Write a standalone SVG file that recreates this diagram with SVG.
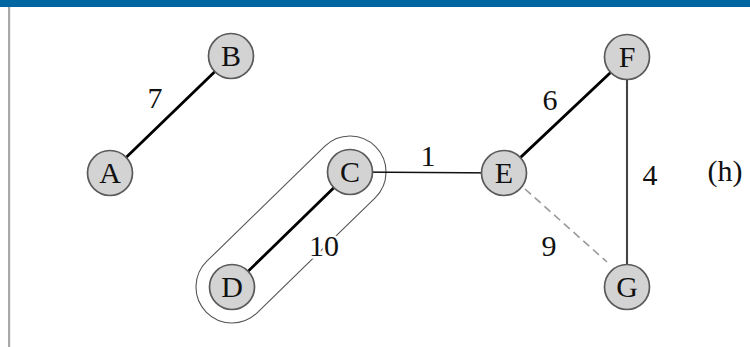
<svg xmlns="http://www.w3.org/2000/svg" width="750" height="347" viewBox="0 0 750 347">
  <style>
    .node circle { fill: #d3d3d3; stroke: #5a5a5a; stroke-width: 1.7; }
    .node text, .lbl { font-family: "Liberation Serif", "Times New Roman", serif; font-size: 30px; fill: #111; text-anchor: middle; }
    .tree { stroke: #000; stroke-width: 2.8; stroke-linecap: round; }
    .thin { stroke: #111; stroke-width: 1.7; }
    .mid { stroke: #444; stroke-width: 2.1; }
    .dash { stroke: #999; stroke-width: 1.6; stroke-dasharray: 8 5; }
    .halo { stroke: #fff; stroke-width: 5; paint-order: stroke; stroke-linejoin: round; }
  </style>

  <!-- page frame -->
  <rect x="0" y="0" width="750" height="347" fill="#fff"/>
  <rect x="0" y="0" width="750" height="7" fill="#0066a1"/>
  <rect x="8" y="7" width="2.2" height="340" fill="#a8a8a8"/>

  <!-- cluster outline around C and D -->
  <rect id="cluster-CD" x="-118.4" y="-36" width="236.8" height="72" rx="36" ry="36"
        transform="translate(291 229.5) rotate(-44.26)" fill="none" stroke="#555" stroke-width="1.1"/>

  <g id="edges">
    <line class="tree" x1="110" y1="173" x2="231" y2="56"/>
    <line class="tree" x1="350" y1="172" x2="232" y2="287"/>
    <line class="thin" x1="350" y1="172" x2="504" y2="173"/>
    <line class="tree" x1="504" y1="173" x2="627" y2="57"/>
    <line class="mid" x1="627" y1="57" x2="627" y2="287"/>
    <line class="dash" x1="525" y1="189" x2="607" y2="262"/>
  </g>

  <g id="edge-labels">
    <text class="lbl" x="155" y="108">7</text>
    <text class="lbl" x="428" y="166">1</text>
    <text class="lbl" x="550" y="110">6</text>
    <text class="lbl" x="650" y="185">4</text>
    <text class="lbl" x="549" y="256">9</text>
    <text class="lbl halo" x="324" y="256">10</text>
  </g>

  <g id="A" class="node"><circle cx="110" cy="173" r="22.5"/><text x="110" y="183">A</text></g>
  <g id="B" class="node"><circle cx="231" cy="56" r="22.5"/><text x="231" y="66">B</text></g>
  <g id="C" class="node"><circle cx="350" cy="172" r="22.5"/><text x="350" y="182">C</text></g>
  <g id="D" class="node"><circle cx="232" cy="287" r="22.5"/><text x="232" y="297">D</text></g>
  <g id="E" class="node"><circle cx="504" cy="173" r="22.5"/><text x="504" y="183">E</text></g>
  <g id="F" class="node"><circle cx="627" cy="57" r="22.5"/><text x="627" y="67">F</text></g>
  <g id="G" class="node"><circle cx="627" cy="287" r="22.5"/><text x="627" y="297">G</text></g>

  <text id="caption" class="lbl" x="725" y="181">(h)</text>
</svg>
